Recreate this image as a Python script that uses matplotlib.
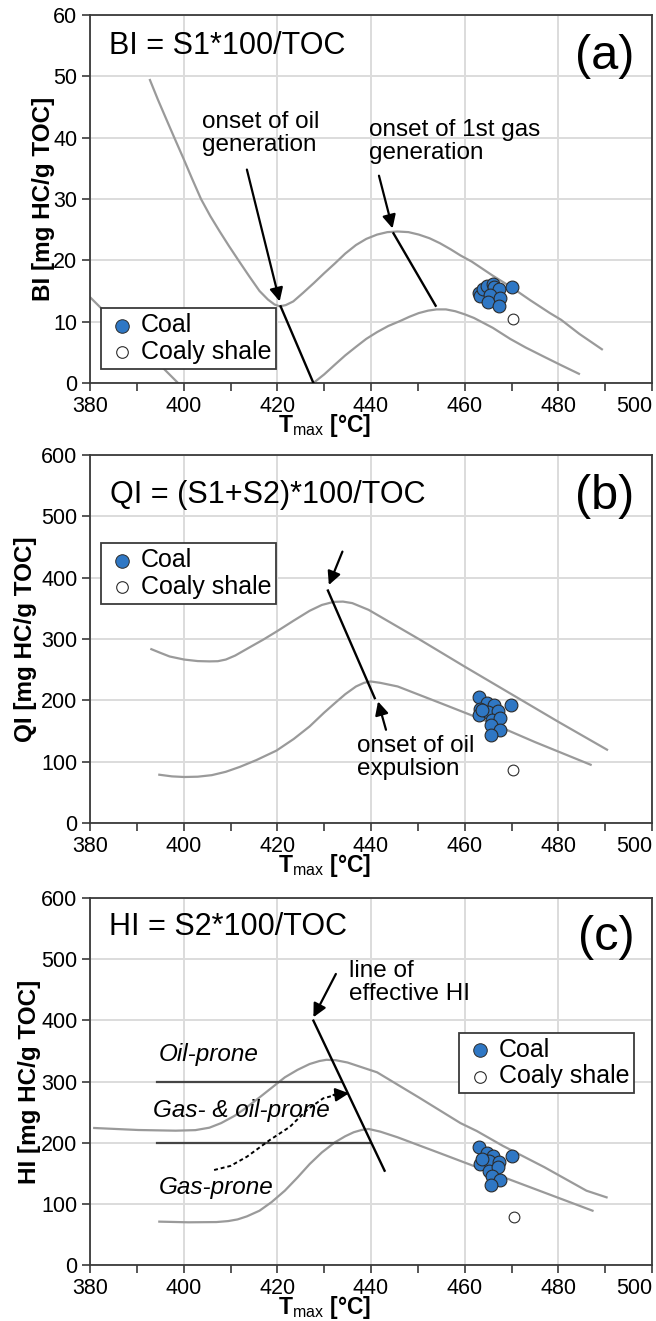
import matplotlib
matplotlib.use("Agg")
import matplotlib.pyplot as plt
from matplotlib import font_manager

# ---------------- data ----------------
# Panel (a) BI
bi_coal_x = [463.1, 463.3, 464.0, 464.8, 466.0, 466.3, 467.3, 465.4, 465.0, 467.5, 467.3, 470.0]
bi_coal_y = [14.6, 14.2, 15.4, 15.8, 16.1, 15.6, 15.3, 14.3, 13.2, 13.8, 12.6, 15.7]
bi_shale_x = [470.4]
bi_shale_y = [10.5]
bi_upper_x = [392.8, 394.5, 396.3, 398.0, 399.9, 401.8, 403.7, 405.7, 407.7, 409.7, 411.7, 414.0,
              416.2, 418.0, 419.4, 420.5, 421.8, 423.4, 425.5, 427.8, 430.0, 432.3, 434.5,
              436.8, 439.0, 441.3, 443.5, 445.7, 448.0, 450.2, 452.5, 454.7, 457.0, 459.1,
              461.5, 466.0, 470.0, 474.0, 478.2, 480.6, 484.5, 489.3]
bi_upper_y = [49.4, 46.2, 43.0, 40.0, 36.7, 33.3, 30.0, 27.2, 24.7, 22.3, 20.0, 17.4,
              15.0, 13.6, 12.8, 12.5, 12.7, 13.3, 14.7, 16.3, 17.9, 19.5, 21.1,
              22.5, 23.5, 24.2, 24.6, 24.7, 24.6, 24.2, 23.6, 22.8, 21.8, 20.8,
              19.8, 17.5, 15.6, 13.5, 11.4, 10.3, 8.0, 5.5]
bi_lower_x = [427.7, 430.0, 432.3, 434.5, 436.8, 439.0, 441.3, 443.7, 446.2, 448.2, 450.2, 452.2,
              454.0, 456.0, 458.0, 460.0, 462.0, 464.0, 466.0, 469.7, 473.0, 476.9, 480.6, 484.4]
bi_lower_y = [0.0, 1.4, 3.0, 4.5, 5.9, 7.2, 8.3, 9.3, 10.1, 10.8, 11.4, 11.8,
              12.0, 12.0, 11.7, 11.2, 10.6, 9.8, 9.0, 7.2, 5.8, 4.3, 2.9, 1.5]
bi_left_x = [380.0, 385.0, 390.0, 395.0, 398.8]
bi_left_y = [14.0, 10.2, 6.4, 2.9, 0.0]

# Panel (b) QI
qi_coal_x = [463.0, 464.8, 466.3, 463.2, 463.0, 464.9, 467.2, 465.8, 467.6, 465.6, 467.6, 465.6, 469.9, 463.6]
qi_coal_y = [204.7, 195.5, 192.8, 185.7, 176.5, 180.3, 181.9, 168.3, 171.0, 160.2, 152.0, 143.9, 191.7, 183.5]
qi_shale_x = [470.3]
qi_shale_y = [86.9]
qi_upper_x = [393.1, 395.0, 397.0, 400.1, 403.0, 405.5, 407.3, 409.0, 411.0, 414.4, 417.0, 419.8,
              423.5, 426.9, 429.5, 432.0, 434.0, 436.0, 439.5, 450.2, 460.0, 470.0, 480.0, 490.4]
qi_upper_y = [283.4, 277.5, 271.5, 266.5, 264.0, 263.5, 263.8, 266.5, 273.0, 287.8, 299.0, 312.0,
              330.0, 346.0, 355.5, 360.5, 361.0, 358.5, 347.5, 300.0, 255.0, 210.0, 165.0, 119.5]
qi_lower_x = [394.8, 397.5, 400.1, 403.0, 406.0, 409.0, 412.0, 415.5, 419.8, 423.5, 426.9, 430.0,
              432.3, 434.5, 436.8, 438.5, 439.9, 442.0, 445.7, 455.0, 465.0, 475.0, 486.9]
qi_lower_y = [78.7, 76.0, 75.0, 75.5, 78.0, 83.5, 91.5, 102.5, 118.0, 137.0, 157.5, 180.0,
              195.5, 210.0, 222.6, 228.5, 230.8, 228.5, 222.6, 195.0, 165.0, 132.0, 95.0]

# Panel (c) HI
hi_coal_x = [463.0, 464.8, 466.1, 463.2, 465.2, 467.4, 465.2, 467.2, 465.8, 467.6, 465.6, 470.0, 463.6]
hi_coal_y = [192.4, 182.6, 178.2, 165.1, 169.5, 167.9, 154.2, 159.7, 146.1, 139.0, 131.3, 177.7, 173.3]
hi_shale_x = [470.6]
hi_shale_y = [77.9]
hi_upper_x = [380.9, 390.3, 398.3, 402.5, 405.5, 408.0, 410.9, 413.5, 416.2, 419.0, 421.6, 424.3,
              426.9, 429.0, 430.5, 432.5, 435.0, 441.3, 450.2, 459.1, 462.6, 468.1, 477.0, 486.0, 490.3]
hi_upper_y = [224.0, 220.7, 219.6, 220.5, 224.5, 232.0, 244.0, 258.0, 274.0, 291.0, 306.8, 319.0,
              328.6, 333.5, 335.5, 334.8, 331.0, 315.0, 274.0, 232.0, 219.0, 195.0, 160.0, 121.5, 110.6]
hi_lower_x = [394.8, 401.0, 407.0, 409.5, 411.5, 413.5, 416.2, 418.8, 421.6, 424.3, 426.9, 429.5,
              432.3, 434.5, 436.3, 438.0, 439.5, 442.0, 445.7, 455.0, 465.0, 478.2, 487.3]
hi_lower_y = [70.9, 69.8, 70.2, 71.8, 74.5, 79.5, 88.8, 103.0, 121.5, 143.0, 165.0, 184.0,
              200.6, 210.5, 217.0, 220.8, 222.4, 218.0, 208.7, 182.0, 153.0, 115.0, 88.8]
hi_dotted_x = [406.5, 410.0, 413.5, 418.4, 422.7, 426.3, 429.8, 433.0]
hi_dotted_y = [155.3, 162.0, 177.0, 204.4, 226.0, 253.4, 272.5, 279.0]
hi_class_levels = [300, 200]
hi_class_xstart = [394.3, 394.3]
hi_class_xend = [433.7, 439.9]

x_ticks = [380, 400, 420, 440, 460, 480, 500]

# ---------------- style ----------------
avail = {f.name for f in font_manager.fontManager.ttflist}
SANS = "Liberation Sans" if "Liberation Sans" in avail else "DejaVu Sans"
plt.rcParams["font.family"] = [SANS, "DejaVu Sans"]
plt.rcParams["mathtext.fontset"] = "custom"
plt.rcParams["mathtext.rm"] = SANS
plt.rcParams["mathtext.bf"] = SANS + ":bold"
plt.rcParams["mathtext.it"] = SANS + ":italic"

COAL = "#2f77c4"
EDGE = "#2b2b2b"
CURVE = "#9a9a9a"
GRID = "#dcdcdc"
SPINE = "#3a3a3a"

fig = plt.figure(figsize=(6.56, 13.21), dpi=100)
L, W = 90 / 656, 562 / 656
axes_px = [(15, 383), (455, 823), (898, 1265)]
axs = []
for top, bot in axes_px:
    ax = fig.add_axes([L, 1 - bot / 1321, W, (bot - top) / 1321])
    axs.append(ax)


def style(ax, ymax, ystep, ylabel, ylab_x):
    ax.set_xlim(380, 500)
    ax.set_ylim(0, ymax)
    ax.set_xticks(x_ticks)
    ax.set_xticks(range(390, 500, 20), minor=True)
    ax.set_yticks(range(0, ymax + 1, ystep))
    ax.grid(True, which="major", color=GRID, lw=1.4, zorder=0)
    ax.set_axisbelow(True)
    for s in ax.spines.values():
        s.set_color(SPINE)
        s.set_linewidth(1.3)
    ax.tick_params(which="both", direction="out", color=SPINE, width=1.2, length=6,
                   labelsize=15.5, pad=3)
    ax.tick_params(axis="x", which="both", top=False)
    ax.tick_params(axis="y", right=False)
    ax.get_xticklabels()[-1].set_horizontalalignment("right")
    ax.set_ylabel(ylabel, fontsize=17.5, fontweight="bold")
    ax.yaxis.set_label_coords(ylab_x, 0.5)
    ax.set_xlabel(r"T$_{\mathrm{max}}$ [°C]", fontsize=16.5, fontweight="bold")
    ax.xaxis.set_label_coords(0.417, -0.08)


def legend(ax, x, y):
    h1 = ax.scatter([], [], s=95, c=COAL, edgecolors=EDGE, linewidths=0.7, label="Coal")
    h2 = ax.scatter([], [], s=70, c="white", edgecolors=EDGE, linewidths=0.8, label="Coaly shale")
    lg = ax.legend(handles=[h1, h2], loc="upper left", bbox_to_anchor=(x, y),
                   borderaxespad=0, fontsize=18, frameon=True, fancybox=False,
                   edgecolor=SPINE, framealpha=1, borderpad=0.2, labelspacing=0.1,
                   handletextpad=0.1, handlelength=1.3)
    lg.get_frame().set_linewidth(1.3)
    lg.set_zorder(10)


def points(ax, cx, cy, sx, sy):
    ax.scatter(cx, cy, s=85, c=COAL, edgecolors=EDGE, linewidths=0.8, zorder=5)
    ax.scatter(sx, sy, s=60, c="white", edgecolors=EDGE, linewidths=0.8, zorder=5)


def arrow(ax, xy, xytext):
    ax.annotate("", xy=xy, xytext=xytext,
                arrowprops=dict(arrowstyle="-|>", color="black", lw=1.6,
                                mutation_scale=20, shrinkA=0, shrinkB=0), zorder=6)


ANN = 17.5

# ---------------- (a) ----------------
ax = axs[0]
style(ax, 60, 10, "BI [mg HC/g TOC]", -0.063)
ax.plot(bi_upper_x, bi_upper_y, color=CURVE, lw=1.6, zorder=2)
ax.plot(bi_lower_x, bi_lower_y, color=CURVE, lw=1.6, zorder=2)
ax.plot(bi_left_x, bi_left_y, color=CURVE, lw=1.6, zorder=2)
ax.plot([420.7, 427.7], [12.5, 0.0], color="black", lw=1.7, zorder=4)
ax.plot([444.8, 453.8], [24.4, 12.6], color="black", lw=1.7, zorder=4)
arrow(ax, (420.5, 13.3), (413.5, 34.8))
arrow(ax, (444.6, 25.2), (441.7, 33.8))
ax.text(404, 44.3, "onset of oil\ngeneration", fontsize=ANN, ha="left", va="top", linespacing=1.05)
ax.text(439.5, 43.0, "onset of 1st gas\ngeneration", fontsize=ANN, ha="left", va="top", linespacing=1.05)
ax.text(384.1, 55.0, "BI = S1*100/TOC", fontsize=22, ha="left", va="center")
ax.text(496.3, 53.3, "(a)", fontsize=35, ha="right", va="center")
points(ax, bi_coal_x, bi_coal_y, bi_shale_x, bi_shale_y)
legend(ax, 0.019, 0.203)

# ---------------- (b) ----------------
ax = axs[1]
style(ax, 600, 100, "QI [mg HC/g TOC]", -0.094)
ax.plot(qi_upper_x, qi_upper_y, color=CURVE, lw=1.6, zorder=2)
ax.plot(qi_lower_x, qi_lower_y, color=CURVE, lw=1.6, zorder=2)
ax.plot([430.8, 440.8], [379.0, 203.6], color="black", lw=1.7, zorder=4)
arrow(ax, (431.0, 388.0), (433.9, 442.5))
arrow(ax, (441.5, 198.2), (443.2, 152.0))
ax.text(437.0, 143.0, "onset of oil\nexpulsion", fontsize=ANN, ha="left", va="top", linespacing=1.05)
ax.text(384.2, 535.0, "QI = (S1+S2)*100/TOC", fontsize=22, ha="left", va="center")
ax.text(496.3, 533.0, "(b)", fontsize=35, ha="right", va="center")
points(ax, qi_coal_x, qi_coal_y, qi_shale_x, qi_shale_y)
legend(ax, 0.019, 0.760)

# ---------------- (c) ----------------
ax = axs[2]
style(ax, 600, 100, "HI [mg HC/g TOC]", -0.088)
ax.plot(hi_upper_x, hi_upper_y, color=CURVE, lw=1.6, zorder=2)
ax.plot(hi_lower_x, hi_lower_y, color=CURVE, lw=1.6, zorder=2)
for lvl, xs, xe in zip(hi_class_levels, hi_class_xstart, hi_class_xend):
    ax.plot([xs, xe], [lvl, lvl], color="#454545", lw=1.6, zorder=3)
ax.plot([427.7, 442.9], [399.5, 154.2], color="black", lw=1.7, zorder=4)
arrow(ax, (427.7, 405.0), (432.5, 475.8))
ax.plot(hi_dotted_x, hi_dotted_y, color="black", lw=1.4, ls=(0, (2, 1.5)), zorder=4)
arrow(ax, (435.3, 280.7), (432.0, 278.0))
ax.text(394.7, 333.0, "Oil-prone", fontsize=ANN, style="italic", ha="left", va="baseline")
ax.text(393.4, 242.5, "Gas- & oil-prone", fontsize=ANN, style="italic", ha="left", va="baseline")
ax.text(394.7, 116.0, "Gas-prone", fontsize=ANN, style="italic", ha="left", va="baseline")
ax.text(435.4, 498.0, "line of\neffective HI", fontsize=ANN, ha="left", va="top", linespacing=1.05)
ax.text(384.0, 553.0, "HI = S2*100/TOC", fontsize=22, ha="left", va="center")
ax.text(496.3, 535.0, "(c)", fontsize=35, ha="right", va="center")
points(ax, hi_coal_x, hi_coal_y, hi_shale_x, hi_shale_y)
legend(ax, 0.656, 0.633)

fig.savefig("out.png", dpi=100)
